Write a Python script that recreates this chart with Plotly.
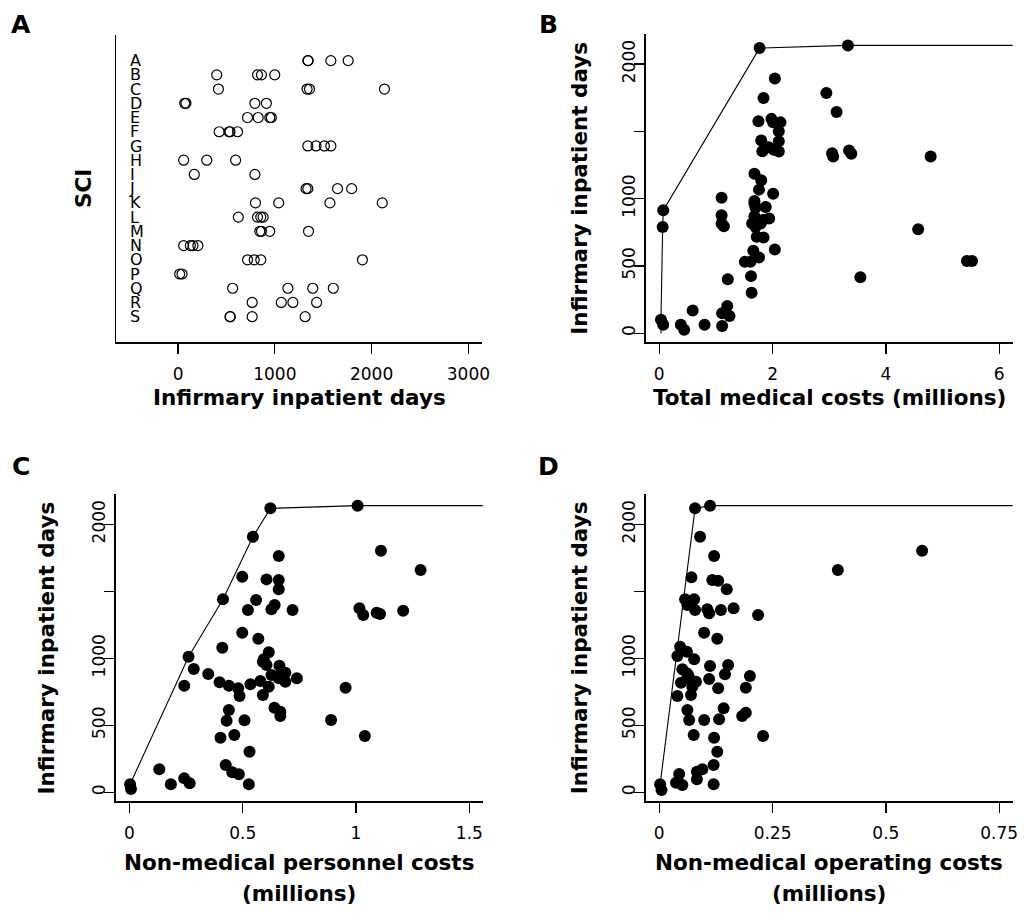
import plotly.graph_objects as go

# ---------------- data ----------------
sci_letters = list("ABCDEFGHIJKLMNOPQRS")

a_group = (["A"] * 4 + ["B"] * 4 + ["C"] * 4 + ["D"] * 4 + ["E"] * 4 + ["F"] * 4 +
           ["G"] * 4 + ["H"] * 3 + ["I"] * 2 + ["J"] * 4 + ["K"] * 4 + ["L"] * 4 +
           ["M"] * 4 + ["N"] * 4 + ["O"] * 4 + ["P"] * 2 + ["Q"] * 4 + ["R"] * 4 + ["S"] * 4)
a_days = [1341, 1345, 1579, 1758,
          400, 821, 862, 999,
          417, 1333, 1358, 2133,
          69, 82, 794, 913,
          718, 828, 948, 964,
          425, 527, 537, 615,
          1341, 1426, 1512, 1579,
          58, 297, 595,
          168, 794,
          1323, 1341, 1648, 1794,
          800, 1040, 1569, 2110,
          623, 821, 855, 879,
          845, 862, 948, 1348,
          58, 127, 154, 205,
          718, 787, 855, 1905,
          17, 41,
          564, 1135, 1392, 1604,
          766, 1067, 1187, 1432,
          537, 540, 766, 1313]

b_cost = [0.03, 0.07, 0.06, 0.07, 0.38, 0.44, 0.59, 0.80,
          1.10, 1.10, 1.10, 1.14, 1.11, 1.20, 1.24, 1.11, 1.21,
          1.51, 1.61, 1.62, 1.63, 1.66, 1.76,
          1.68, 1.70, 1.88, 1.68, 1.73, 1.84, 1.94, 1.64, 1.70, 1.79, 1.72, 1.84, 2.04,
          1.68, 1.80, 1.76, 2.01, 1.68,
          1.77, 3.33, 2.04, 1.84, 2.95, 3.13, 1.75, 1.98, 2.01, 2.14, 2.11, 1.80, 2.11,
          1.82, 1.93, 2.02, 2.11, 3.05, 3.07, 3.35, 3.39, 4.79,
          3.55, 4.57, 5.43, 5.52]
b_days = [99, 62, 790, 913, 62, 25, 168, 62,
          1007, 876, 815, 795, 148, 202, 128, 54, 400,
          530, 530, 424, 301, 612, 563,
          963, 933, 938, 869, 839, 844, 852, 815, 790, 815, 716, 711, 622,
          1185, 1136, 1067, 1037, 982,
          2119, 2139, 1893, 1748, 1785, 1644, 1575, 1593, 1567, 1567, 1501, 1432, 1427,
          1353, 1382, 1363, 1350, 1338, 1313, 1358, 1333, 1313,
          415, 773, 536, 536]
b_front_cost = [0.03, 0.03, 0.06, 0.07, 1.77, 3.33]
b_front_days = [0, 99, 790, 913, 2119, 2139]

c_cost = [0.003, 0.007, 0.261, 0.413, 0.545, 0.622, 1.007,
          0.659, 1.110, 1.285, 0.498, 0.605, 0.659, 0.659, 0.559, 0.523, 0.627, 0.641,
          0.720, 1.015, 1.032, 1.091, 1.106, 1.208, 0.498, 0.569, 0.410, 0.615, 0.593,
          0.284, 0.242, 0.348, 0.398, 0.439, 0.480, 0.486, 0.534, 0.578, 0.589, 0.605,
          0.615, 0.589, 0.627, 0.662, 0.666, 0.688, 0.688, 0.739, 0.659, 0.954, 0.640,
          0.666, 0.666, 0.439, 0.429, 0.508, 0.890, 0.402, 0.463, 1.039, 0.530, 0.425,
          0.454, 0.483, 0.132, 0.183, 0.242, 0.266, 0.527]
c_days = [60, 25, 1012, 1440, 1907, 2119, 2139,
          1763, 1803, 1659, 1609, 1589, 1584, 1515, 1435, 1360, 1366, 1398,
          1360, 1373, 1323, 1340, 1331, 1355, 1191, 1146, 1079, 1045, 993,
          920, 796, 883, 821, 796, 776, 719, 806, 831, 975, 950,
          788, 726, 875, 945, 875, 893, 825, 851, 851, 781, 631,
          601, 569, 614, 534, 537, 540, 407, 428, 420, 303, 204,
          149, 134, 172, 60, 104, 67, 60]
c_front_cost = [0.003, 0.261, 0.413, 0.545, 0.622, 1.007]
c_front_days = [60, 1012, 1440, 1907, 2119, 2139]

d_cost = [0.079, 0.112, 0.090, 0.121, 0.580, 0.394, 0.071, 0.117, 0.130, 0.149, 0.057,
          0.077, 0.062, 0.079, 0.106, 0.110, 0.136, 0.164, 0.218, 0.099, 0.128, 0.046,
          0.061, 0.040, 0.077,
          0.051, 0.061, 0.048, 0.066, 0.081, 0.073, 0.064, 0.040, 0.070, 0.112, 0.110,
          0.130, 0.145, 0.152, 0.200, 0.191, 0.062, 0.066, 0.099, 0.132, 0.142, 0.183,
          0.191, 0.076, 0.121, 0.128, 0.229, 0.120, 0.083, 0.095, 0.083, 0.044, 0.037,
          0.051, 0.120, 0.002, 0.005]
d_days = [2119, 2139, 1907, 1763, 1803, 1659, 1604, 1584, 1579, 1515, 1440,
          1440, 1398, 1360, 1366, 1336, 1360, 1373, 1323, 1191, 1146, 1087,
          1049, 1017, 993,
          918, 888, 818, 851, 825, 788, 873, 719, 726, 943, 846,
          776, 881, 950, 868, 781, 614, 540, 540, 545, 627, 569,
          594, 428, 407, 303, 420, 204, 154, 172, 97, 137, 72,
          54, 60, 60, 17]
d_front_cost = [0.002, 0.079, 0.112]
d_front_days = [60, 2119, 2139]

a_xlim = [-500, 3000]
b_xlim = [0, 6]
c_xlim = [0, 1.5]
d_xlim = [0, 0.75]
a_ylim = [0, 20]

a_xticks = [0, 1000, 2000, 3000]
b_xticks = [0, 2, 4, 6]
c_xticks = [0, 0.5, 1, 1.5]
c_xticklabels = ["0", "0.5", "1", "1.5"]
d_xticks = [0, 0.25, 0.5, 0.75]
d_xticklabels = ["0", "0.25", "0.5", "0.75"]
days_ticks = [0, 500, 1000, 1500, 2000]
days_ticklabels = ["0", "500", "1000", "", "2000"]


def ext(lim):
    d = (lim[1] - lim[0]) * 0.04
    return [lim[0] - d, lim[1] + d]


all_days = b_days + c_days + d_days
days_range = ext([min(all_days), max(all_days)])

# ---------------- layout helpers ----------------
W, H = 1033, 915
FONT = "DejaVu Sans"


def px(x):
    return x / W


def py(y):
    return 1 - y / H


dom = {
    "A": ([117, 485.7], [35, 342.3]),
    "B": ([650.7, 1020.7], [34, 342.3]),
    "C": ([116.7, 486.7], [494.3, 801.4]),
    "D": ([650.7, 1020.7], [494.3, 801.4]),
}

fig = go.Figure()

# Panel A: strip chart
letter_pos = {L: len(sci_letters) - i for i, L in enumerate(sci_letters)}
fig.add_trace(go.Scatter(
    x=a_days, y=[letter_pos[g] for g in a_group], mode="markers",
    marker=dict(symbol="circle-open", size=10, color="black", line=dict(width=1.2, color="black")),
    xaxis="x", yaxis="y", showlegend=False, hoverinfo="skip"))


def add_panel(xs, ys, fx, fy, xr, ax):
    fig.add_trace(go.Scatter(
        x=fx + [xr[1]], y=fy + [fy[-1]], mode="lines",
        line=dict(color="black", width=1.1),
        xaxis="x" + ax, yaxis="y" + ax, showlegend=False, hoverinfo="skip"))
    fig.add_trace(go.Scatter(
        x=xs, y=ys, mode="markers",
        marker=dict(symbol="circle", size=12, color="black"),
        xaxis="x" + ax, yaxis="y" + ax, showlegend=False, hoverinfo="skip"))


b_range = ext(b_xlim)
c_range = ext(c_xlim)
d_range = ext(d_xlim)
add_panel(b_cost, b_days, b_front_cost, b_front_days, b_range, "2")
add_panel(c_cost, c_days, c_front_cost, c_front_days, c_range, "3")
add_panel(d_cost, d_days, d_front_cost, d_front_days, d_range, "4")

axis_common = dict(showline=True, linecolor="black", linewidth=1.5, showgrid=False,
                   zeroline=False, ticks="outside", ticklen=10, tickwidth=1.3,
                   tickcolor="black", tickfont=dict(family=FONT, size=17, color="black"))
XSO = 6
YSO = -8


def xdom(k):
    return [px(dom[k][0][0]), px(dom[k][0][1])]


def ydom(k):
    return [py(dom[k][1][1]), py(dom[k][1][0])]


fig.update_layout(
    width=W, height=H, margin=dict(l=0, r=0, t=0, b=0),
    paper_bgcolor="white", plot_bgcolor="white",
    font=dict(family=FONT, color="black"),
    xaxis=dict(axis_common, domain=xdom("A"), range=ext(a_xlim), tickvals=a_xticks,
               anchor="y", ticklabelstandoff=XSO),
    yaxis=dict(axis_common, domain=ydom("A"), range=ext(a_ylim),
               tickvals=[letter_pos[L] for L in sci_letters], ticktext=sci_letters,
               ticks="", ticklabelposition="inside", ticklabelstandoff=14,
               tickfont=dict(family=FONT, size=16, color="black"), anchor="x"),
    xaxis2=dict(axis_common, domain=xdom("B"), range=b_range, tickvals=b_xticks,
                anchor="y2", ticklabelstandoff=XSO),
    yaxis2=dict(axis_common, domain=ydom("B"), range=days_range, tickvals=days_ticks,
                ticktext=days_ticklabels, tickangle=-90, anchor="x2", ticklabelstandoff=YSO),
    xaxis3=dict(axis_common, domain=xdom("C"), range=c_range, tickvals=c_xticks,
                ticktext=c_xticklabels, anchor="y3", ticklabelstandoff=XSO),
    yaxis3=dict(axis_common, domain=ydom("C"), range=days_range, tickvals=days_ticks,
                ticktext=days_ticklabels, tickangle=-90, anchor="x3", ticklabelstandoff=YSO),
    xaxis4=dict(axis_common, domain=xdom("D"), range=d_range, tickvals=d_xticks,
                ticktext=d_xticklabels, anchor="y4", ticklabelstandoff=XSO),
    yaxis4=dict(axis_common, domain=ydom("D"), range=days_range, tickvals=days_ticks,
                ticktext=days_ticklabels, tickangle=-90, anchor="x4", ticklabelstandoff=YSO),
)

ann = []
TF = dict(family=FONT, size=21.5, color="black")
# panel letters
for lab, (x, y) in {"A": (21.5, 24), "B": (553, 24), "C": (21.5, 466), "D": (553, 466)}.items():
    ann.append(dict(text="<b>%s</b>" % lab, x=px(x), y=py(y), xref="paper", yref="paper",
                    showarrow=False, font=dict(family=FONT, size=25, color="black"),
                    xanchor="center", yanchor="middle"))


def cx(k):
    return (dom[k][0][0] + dom[k][0][1]) / 2


def cy(k):
    return (dom[k][1][0] + dom[k][1][1]) / 2


xtitles = [("A", "Infirmary inpatient days", 397),
           ("B", "Total medical costs (millions)", 397),
           ("C", "Non-medical personnel costs", 862),
           ("C", "(millions)", 893),
           ("D", "Non-medical operating costs", 862),
           ("D", "(millions)", 893)]
for k, t, y in xtitles:
    ann.append(dict(text="<b>%s</b>" % t, x=px(cx(k)), y=py(y), xref="paper", yref="paper",
                    showarrow=False, font=TF, xanchor="center", yanchor="middle"))

ytitles = [("A", "SCI", 84), ("B", "Infirmary inpatient days", 584),
           ("C", "Infirmary inpatient days", 47), ("D", "Infirmary inpatient days", 584)]
for k, t, x in ytitles:
    ann.append(dict(text="<b>%s</b>" % t, x=px(x), y=py(cy(k)), xref="paper", yref="paper",
                    showarrow=False, font=TF, textangle=-90, xanchor="center", yanchor="middle"))

fig.update_layout(annotations=ann)
fig.write_html("out.html", config={"displayModeBar": False, "staticPlot": True},
               post_script="document.body.style.margin='0';document.body.style.padding='0';"
                           "document.body.style.overflow='hidden';")
